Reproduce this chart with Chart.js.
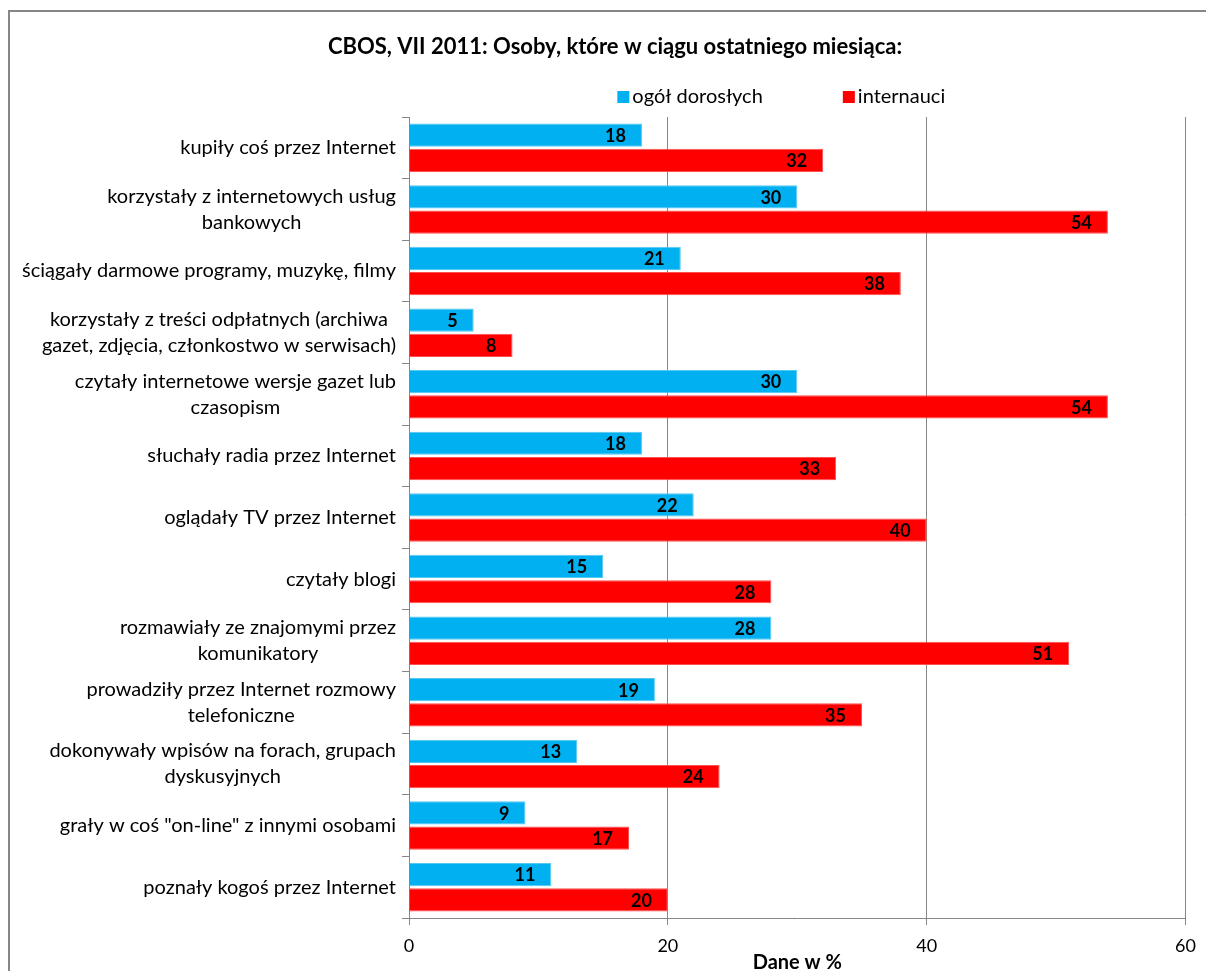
<!DOCTYPE html>
<html>
<head>
<meta charset="utf-8">
<script src="https://cdn.jsdelivr.net/npm/chart.js@4.4.0/dist/chart.umd.min.js"></script>
<style>
html,body{margin:0;padding:0;background:#fff;}
#wrap{position:relative;width:1206px;height:971px;}
#frame{position:absolute;left:8px;top:10px;right:-10px;bottom:-10px;border-left:2px solid #868686;border-top:2px solid #868686;}
canvas{position:absolute;left:0;top:0;}
</style>
</head>
<body>
<div id="wrap"><div id="frame"></div><canvas id="c" width="1206" height="971"></canvas></div>
<script>
const titleText = 'CBOS, VII 2011: Osoby, które w ciągu ostatniego miesiąca:';
const axisTitle = 'Dane w %';
const seriesNames = ['ogół dorosłych', 'internauci'];
const categories = [
  ['kupiły coś przez Internet'],
  ['korzystały z internetowych usług', 'bankowych'],
  ['ściągały darmowe programy, muzykę, filmy'],
  ['korzystały z treści odpłatnych (archiwa', 'gazet, zdjęcia, członkostwo w serwisach)'],
  ['czytały internetowe wersje gazet lub', 'czasopism'],
  ['słuchały radia przez Internet'],
  ['oglądały TV przez Internet'],
  ['czytały blogi'],
  ['rozmawiały ze znajomymi przez', 'komunikatory'],
  ['prowadziły przez Internet rozmowy', 'telefoniczne'],
  ['dokonywały wpisów na forach, grupach', 'dyskusyjnych'],
  ['grały w coś "on-line" z innymi osobami'],
  ['poznały kogoś przez Internet']
];
const adults = [18, 30, 21, 5, 30, 18, 22, 15, 28, 19, 13, 9, 11];
const internetUsers = [32, 54, 38, 8, 54, 33, 40, 28, 51, 35, 24, 17, 20];
const xTicks = [0, 20, 40, 60];

const FONT = 'Lato, "Noto Sans", sans-serif';
const COLORS = ['#00B0F0', '#FF0000'];
const BORDERS = ['#55C8F2', '#FF5050'];

const yLabelPlugin = {
  id: 'yLabels',
  afterDraw(chart) {
    const ctx = chart.ctx, ys = chart.scales.y;
    const right = ys.right - 13;
    ctx.save();
    ctx.font = '20px ' + FONT;
    ctx.fillStyle = '#000';
    ctx.textAlign = 'center';
    ctx.textBaseline = 'middle';
    const lh = 26;
    categories.forEach((lines, i) => {
      const y = ys.getPixelForValue(i);
      const w = Math.max(...lines.map(l => ctx.measureText(l).width));
      const cx = right - w / 2;
      const y0 = y - (lines.length - 1) * lh / 2;
      lines.forEach((l, k) => ctx.fillText(l, cx, y0 + k * lh));
    });
    ctx.restore();
  }
};

const valueLabelPlugin = {
  id: 'valueLabels',
  afterDatasetsDraw(chart) {
    const ctx = chart.ctx;
    ctx.save();
    ctx.font = 'bold 18px ' + FONT;
    ctx.fillStyle = '#000';
    ctx.textAlign = 'right';
    ctx.textBaseline = 'middle';
    chart.data.datasets.forEach((ds, di) => {
      chart.getDatasetMeta(di).data.forEach((el, i) => {
        ctx.fillText(String(ds.data[i]), el.x - 16, el.y + 1);
      });
    });
    ctx.restore();
  }
};

const legendPlugin = {
  id: 'customLegend',
  afterDraw(chart) {
    const ctx = chart.ctx, ca = chart.chartArea;
    ctx.save();
    ctx.font = '20px ' + FONT;
    ctx.textBaseline = 'middle';
    ctx.textAlign = 'left';
    const box = 12, gap = 3, between = 80;
    const widths = seriesNames.map(n => box + gap + ctx.measureText(n).width);
    const total = widths[0] + between + widths[1];
    let x = (ca.left + ca.right) / 2 - 16 - total / 2;
    const y = 97;
    seriesNames.forEach((n, i) => {
      ctx.fillStyle = COLORS[i];
      ctx.fillRect(x, y - box / 2, box, box);
      ctx.fillStyle = '#000';
      ctx.fillText(n, x + box + gap, y);
      x += widths[i] + between;
    });
    ctx.restore();
  }
};

new Chart(document.getElementById('c'), {
  type: 'bar',
  data: {
    labels: categories,
    datasets: [
      { label: seriesNames[0], data: adults, backgroundColor: COLORS[0], borderColor: BORDERS[0], borderWidth: 1 },
      { label: seriesNames[1], data: internetUsers, backgroundColor: COLORS[1], borderColor: BORDERS[1], borderWidth: 1 }
    ]
  },
  options: {
    indexAxis: 'y',
    responsive: false,
    animation: false,
    devicePixelRatio: 1,
    categoryPercentage: 0.82,
    barPercentage: 0.92,
    layout: { padding: { left: 44, right: 20, top: 11, bottom: 0 } },
    plugins: {
      legend: { display: false },
      tooltip: { enabled: false },
      title: {
        display: true,
        text: titleText,
        color: '#000',
        font: { family: FONT, size: 22, weight: 'bold' },
        padding: { top: 23, bottom: 56.6 }
      }
    },
    scales: {
      x: {
        min: 0, max: 60,
        afterBuildTicks(s) { s.ticks = xTicks.map(v => ({ value: v })); },
        afterFit(s) { s.height = 53; },
        grid: { color: '#868686', lineWidth: 1, tickLength: 7 },
        border: { color: '#868686', width: 1 },
        ticks: { color: '#000', font: { family: FONT, size: 18 }, padding: 10 },
        title: { display: true, text: axisTitle, color: '#000', font: { family: FONT, size: 20, weight: 'bold' }, padding: { top: 0, bottom: -4 } }
      },
      y: {
        afterFit(s) { s.width = 365; },
        grid: { offset: true, drawOnChartArea: false, color: '#868686', tickLength: 7 },
        border: { color: '#868686', width: 1 },
        ticks: { display: false }
      }
    }
  },
  plugins: [yLabelPlugin, valueLabelPlugin, legendPlugin]
});
</script>
</body>
</html>
